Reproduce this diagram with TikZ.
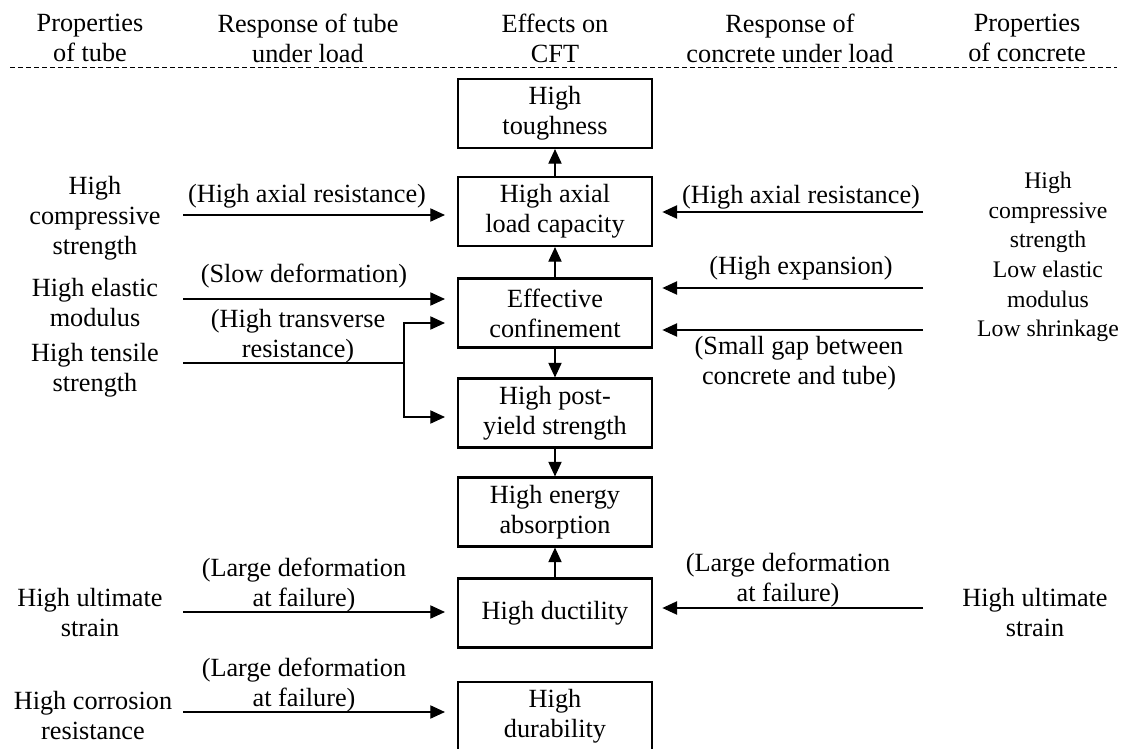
\documentclass[tikz,border=0pt]{standalone}
\usepackage{fontspec}
\setmainfont{Liberation Serif}
\usetikzlibrary{arrows.meta}
\begin{document}
\begin{tikzpicture}[x=0.75pt,y=-0.75pt,
        every node/.style={font=\fontsize{19.7}{22.5}\selectfont,align=center,inner sep=0pt},
        effect/.style={draw,line width=1.6pt,minimum width=145.5pt,minimum height=51.75pt},
        arr/.style={line width=0.8pt,-{Triangle[length=11pt,width=10pt]}}]
        \useasboundingbox (0,0) rectangle (1121,749);
        \node (h1) at (90,38) {Properties\\of tube};
        \node (h2) at (308,38) {Response of tube\\under load};
        \node (h3) at (555,38) {Effects on\\CFT};
        \node (h4) at (790,38) {Response of\\concrete under load};
        \node (h5) at (1027,38) {Properties\\of concrete};
        \coordinate (dl) at (10,68);
        \coordinate (dr) at (1117,68);
        \draw [line width=0.75pt,dash pattern=on 3.5pt off 2.5pt] (dl) -- (dr);
        \node [effect] (tough) at (555,113.5) {High\\toughness};
        \node [effect] (axial) at (555,211.5) {High axial\\load capacity};
        \node [effect] (conf) at (555,313) {Effective\\confinement};
        \node [effect] (post) at (555,413) {High post-\\yield strength};
        \node [effect] (energy) at (555,512) {High energy\\absorption};
        \node [effect] (duct) at (555,613) {High ductility};
        \node [effect] (dura) at (555,716.5) {High\\durability};
        \draw [arr] (axial.north) -- (tough.south);
        \draw [arr] (conf.north) -- (axial.south);
        \draw [arr] (conf.south) -- (post.north);
        \draw [arr] (post.south) -- (energy.north);
        \draw [arr] (duct.north) -- (energy.south);
        \node (t1) at (95,218) {High\\compressive\\strength};
        \node (t2) at (95,303) {High elastic\\modulus};
        \node (t3) at (95,370) {High tensile\\strength};
        \node (t4) at (90,613) {High ultimate\\strain};
        \node (t5) at (93,716) {High corrosion\\resistance};
        \node (l1) at (307,196) {(High axial resistance)};
        \node (l2) at (304,276) {(Slow deformation)};
        \node (l3) at (298,336) {(High transverse\\resistance)};
        \node (l4) at (304,585) {(Large deformation\\at failure)};
        \node (l5) at (304,685) {(Large deformation\\at failure)};
        \coordinate (a1) at (183,215);
        \coordinate (a2) at (183,299);
        \coordinate (a3) at (183,363);
        \coordinate (br) at (404,363);
        \coordinate (c3) at (404,323);
        \coordinate (d3) at (404,417);
        \coordinate (a4) at (183,612);
        \coordinate (a5) at (183,712);
        \draw [arr,shorten >=9pt] (a1) -- (axial.west |- a1);
        \draw [arr,shorten >=9pt] (a2) -- (conf.west |- a2);
        \draw [line width=0.8pt] (a3) -- (br);
        \draw [arr,shorten >=9pt] (br) |- (conf.west |- c3);
        \draw [arr,shorten >=9pt] (br) |- (post.west |- d3);
        \draw [arr,shorten >=9pt] (a4) -- (duct.west |- a4);
        \draw [arr,shorten >=9pt] (a5) -- (dura.west |- a5);
        \node [font=\fontsize{17.8}{22.2}\selectfont] (p1) at (1048,257) {High\\compressive\\strength\\Low elastic\\modulus\\Low shrinkage};
        \node (p2) at (1035,613) {High ultimate\\strain};
        \node (r1) at (801,197) {(High axial resistance)};
        \node (r2) at (801,268) {(High expansion)};
        \node (r3) at (799,363) {(Small gap between\\concrete and tube)};
        \node (r4) at (788,580) {(Large deformation\\at failure)};
        \coordinate (b1) at (923,212);
        \coordinate (b2) at (923,288);
        \coordinate (b3) at (923,330);
        \coordinate (b4) at (923,608);
        \draw [arr,shorten >=7pt] (b1) -- (axial.east |- b1);
        \draw [arr,shorten >=7pt] (b2) -- (conf.east |- b2);
        \draw [arr,shorten >=7pt] (b3) -- (conf.east |- b3);
        \draw [arr,shorten >=7pt] (b4) -- (duct.east |- b4);
\end{tikzpicture}
\end{document}
